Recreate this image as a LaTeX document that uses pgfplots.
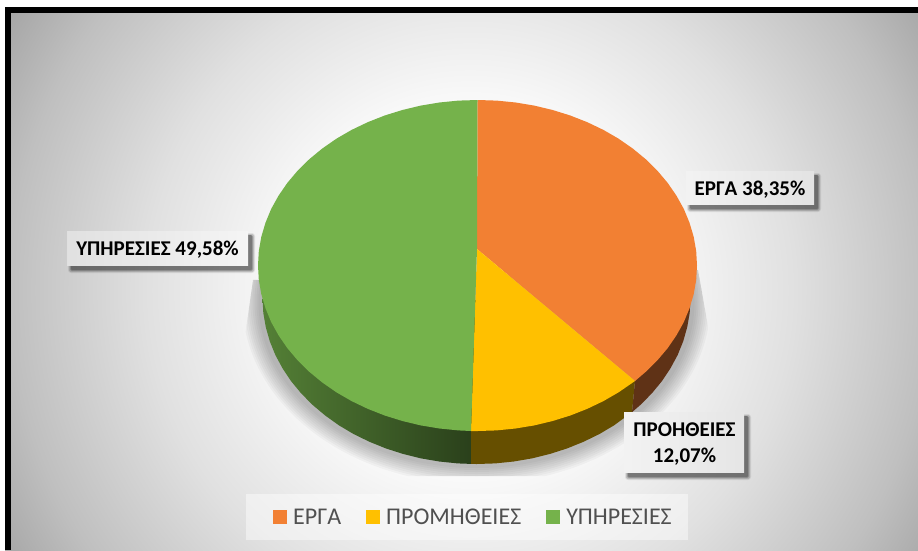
\documentclass[border=0pt]{standalone}
\usepackage{fontspec}
\setmainfont{Carlito}
\usepackage{pgfplots}
\pgfplotsset{compat=1.18}

\definecolor{erga}{HTML}{F28033}
\definecolor{prom}{HTML}{FFC000}
\definecolor{yphr}{HTML}{75B24B}
\definecolor{ergaside}{HTML}{5F3216}
\definecolor{promside}{HTML}{664F00}
\definecolor{legtext}{HTML}{505050}

% page background, light in the middle and grey in the corners
\pgfdeclareradialshading{pagebg}{\pgfpoint{0bp}{0bp}}{%
  color(0bp)=(white);
  color(6.25bp)=(white);
  color(8.3bp)=(black!3);
  color(10.6bp)=(black!7);
  color(13.5bp)=(black!12);
  color(19.2bp)=(black!25);
  color(22.1bp)=(black!34);
  color(23.6bp)=(black!38);
  color(50bp)=(black!38)}

% data label: soft shadow under an opaque box (x1,y1,x2,y2, left and right grey)
\newcommand{\labelbox}[6]{%
  \fill[black, opacity=0.08, rounded corners=3pt] (axis cs:#1+1,#2+2) rectangle (axis cs:#3+7,#4+8);
  \fill[black, opacity=0.14, rounded corners=2pt] (axis cs:#1+2,#2+3) rectangle (axis cs:#3+6,#4+7);
  \fill[black, opacity=0.18, rounded corners=2pt] (axis cs:#1+3,#2+4) rectangle (axis cs:#3+5,#4+6);
  \fill[black, opacity=0.22, rounded corners=1pt] (axis cs:#1+4,#2+4) rectangle (axis cs:#3+4,#4+5);
  \shade[left color=#5, right color=#6] (axis cs:#1,#2) rectangle (axis cs:#3,#4);
}

\begin{document}
\begin{tikzpicture}
\begin{axis}[
  scale only axis,
  width=918pt,
  height=550pt,
  xmin=0, xmax=918,
  ymin=0, ymax=550,
  y dir=reverse,
  hide axis,
  legend style={
    at={(axis cs:273,517)}, anchor=west,
    draw=none, fill=none,
    inner xsep=0pt, inner ysep=0pt,
    legend columns=3,
    font=\fontsize{24}{24}\selectfont,
    text=legtext,
    /tikz/every odd column/.append style={column sep=6pt},
    /tikz/every even column/.append style={column sep=25pt},
    nodes={inner xsep=0pt, inner ysep=0pt, anchor=base west},
  },
  legend cell align=left,
  legend image code/.code={\fill[#1] (0pt,0pt) rectangle (14pt,14pt);},
]

% frame and background: black on the top and left edges only
\fill[white] (axis cs:0,0) rectangle (axis cs:918,550);
\begin{scope}
  \clip (axis cs:5,7) rectangle (axis cs:918,550);
  \shade[overlay, shading=pagebg] (axis cs:-130,-310) rectangle (axis cs:1070,890);
\end{scope}
\fill[black] (axis cs:5,7) rectangle (axis cs:918,13);
\fill[black] (axis cs:5,7) rectangle (axis cs:11,550);

% shadow of the pie, cut off by its own slanted box
\begin{scope}
  \clip (axis cs:253,280) -- (axis cs:243,350) -- (axis cs:243,476) -- (axis cs:714,476)
    -- (axis cs:714,360) -- (axis cs:698,270) -- cycle;
  \pgfplotsinvokeforeach{16,14,12,10,8,6,4,2,0}{
    \fill[black, opacity=0.03] (axis cs:476.5,302) ellipse [x radius=218pt+#1pt, y radius=166pt+#1pt];
  }
\end{scope}

% legend box
\fill[white, opacity=0.45] (axis cs:246,494) rectangle (axis cs:688,540);

% sides of the slices
\addplot[forget plot, draw=none, left color=yphr!72!black, right color=yphr!36!black] coordinates {
  (262.5,298.5) (263.3,312.9) (265.8,327.2) (269.8,341.3) (275.4,355.1) (282.6,368.4)
  (291.2,381.3) (301.2,393.4) (312.6,404.9) (325.2,415.5) (338.9,425.3) (353.7,434.1)
  (369.5,441.8) (386.1,448.5) (403.3,454) (421.1,458.4) (439.3,461.5) (457.8,463.4)
  (471,463.9) (471,431) (471,300)
} --cycle;
\addplot[forget plot, draw=none, fill=promside] coordinates {
  (471,300) (471,463.9) (476.5,464) (495.2,463.4) (513.7,461.5) (531.9,458.4) (549.7,454)
  (566.9,448.5) (583.5,441.8) (599.3,434.1) (614.1,425.3) (632,412.2) (635,381) (500,300)
} --cycle;
\addplot[forget plot, draw=none, fill=ergaside] coordinates {
  (632,412.2) (640.4,404.9) (651.8,393.4) (661.8,381.3) (670.4,368.4) (677.6,355.1)
  (683.2,341.3) (687.2,327.2) (689.7,312.9) (690.5,298.5) (635,381)
} --cycle;

% top faces of the slices
\addplot[draw=none, fill=erga] coordinates {
  (477,249) (477.5,100) (496.6,100.6) (515.6,102.5) (534.3,105.6) (552.6,110) (570.3,115.5)
  (587.3,122.2) (603.4,129.9) (618.6,138.7) (632.7,148.5) (645.6,159.1) (657.3,170.6)
  (667.6,182.8) (676.4,195.6) (683.8,208.9) (689.5,222.7) (693.7,236.8) (696.2,251.1)
  (697,265.5) (696.2,279.9) (693.7,294.2) (689.5,308.3) (683.8,322.1) (676.4,335.4)
  (667.6,348.2) (657.3,360.4) (645.6,371.9) (635,381)
} --cycle;
\addlegendentry{ΕΡΓΑ}
\addplot[draw=none, fill=prom] coordinates {
  (477,249) (635,381) (618.6,392.3) (603.4,401.1) (587.3,408.8) (570.3,415.5) (552.6,421)
  (534.3,425.4) (515.6,428.5) (496.6,430.4) (477.5,431) (471,431)
} --cycle;
\addlegendentry{ΠΡΟΜΗΘΕΙΕΣ}
\addplot[draw=none, fill=yphr] coordinates {
  (477,249) (471,431) (458.4,430.4) (439.4,428.5) (420.7,425.4) (402.4,421) (384.7,415.5)
  (367.7,408.8) (351.6,401.1) (336.4,392.3) (322.3,382.5) (309.4,371.9) (297.7,360.4)
  (287.4,348.2) (278.6,335.4) (271.2,322.1) (265.5,308.3) (261.3,294.2) (258.8,279.9)
  (258,265.5) (258.8,251.1) (261.3,236.8) (265.5,222.7) (271.2,208.9) (278.6,195.6)
  (287.4,182.8) (297.7,170.6) (309.4,159.1) (322.3,148.5) (336.4,138.7) (351.6,129.9)
  (367.7,122.2) (384.7,115.5) (402.4,110) (420.7,105.6) (439.4,102.5) (458.4,100.6) (477.5,100)
} --cycle;
\addlegendentry{ΥΠΗΡΕΣΙΕΣ}

% data labels
\labelbox{686}{171}{814}{204}{black!5}{black!11}
\node[font=\fontsize{21}{21}\selectfont\bfseries, anchor=base] at (axis cs:750,195) {ΕΡΓΑ 38,35\%};
\labelbox{624}{412}{744}{472}{black!5}{black!10}
\node[font=\fontsize{21}{21}\selectfont\bfseries, anchor=base] at (axis cs:684.5,436) {ΠΡΟΗΘΕΙΕΣ};
\node[font=\fontsize{21}{21}\selectfont\bfseries, anchor=base] at (axis cs:684.5,462) {12,07\%};
\labelbox{67}{231}{248}{265}{black!12}{black!4}
\node[font=\fontsize{21}{21}\selectfont\bfseries, anchor=base] at (axis cs:157.5,255) {ΥΠΗΡΕΣΙΕΣ 49,58\%};

\end{axis}
\end{tikzpicture}
\end{document}
